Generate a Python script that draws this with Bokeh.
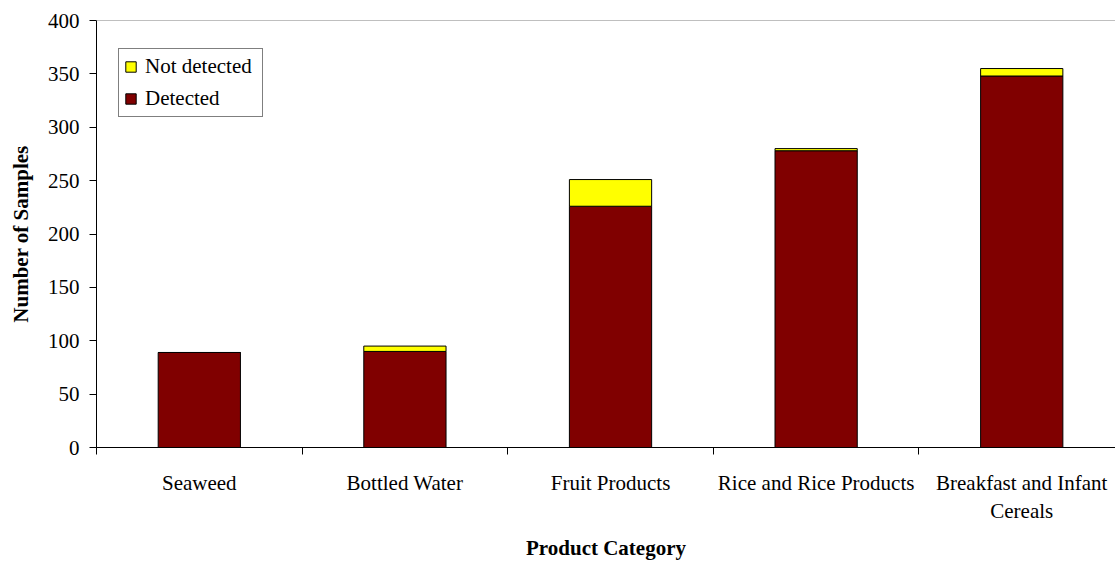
from bokeh.plotting import figure
from bokeh.models import (ColumnDataSource, Range1d, FixedTicker, Legend,
                          LegendItem, Span)
from bokeh.embed import file_html
from bokeh.resources import INLINE

# Sample counts per product category
categories = ["Seaweed", "Bottled Water", "Fruit Products",
              "Rice and Rice Products", "Breakfast and Infant\nCereals"]
detected = [89, 90, 226, 278, 348]
not_detected = [0, 5, 25, 2, 7]
y_ticks = [0, 50, 100, 150, 200, 250, 300, 350, 400]

FONT = "Liberation Serif"
DARK_RED = "#800000"
YELLOW = "#FFFF00"

x_pos = [i + 0.5 for i in range(len(categories))]
totals = [d + n for d, n in zip(detected, not_detected)]

src = ColumnDataSource(dict(
    x=x_pos, detected=detected, total=totals, cat=categories,
))

p = figure(width=1115, height=563, output_backend="svg", toolbar_location=None,
           x_range=Range1d(0, 4.956), y_range=Range1d(0, 400),
           min_border_left=96, min_border_right=0, min_border_top=20,
           min_border_bottom=116)
p.outline_line_color = None
p.xgrid.visible = False
p.ygrid.visible = False
p.background_fill_color = "white"
p.border_fill_color = "white"

r_det = p.vbar(x="x", bottom=0, top="detected", width=0.4, source=src,
               fill_color=DARK_RED, line_color="black", line_width=1)
r_nd = p.vbar(x="x", bottom="detected", top="total", width=0.4, source=src,
              fill_color=YELLOW, line_color="black", line_width=1)

# thin grey line closing the top of the plot area
p.add_layout(Span(location=400, dimension="width", line_color="#808080",
                  line_width=1))

# y axis
yax = p.yaxis[0]
yax.ticker = FixedTicker(ticks=y_ticks, minor_ticks=[])
yax.major_tick_in = 0
yax.major_tick_out = 7
yax.major_tick_line_color = "black"
yax.axis_line_color = "black"
yax.major_label_text_font = FONT
yax.major_label_text_font_size = "21px"
yax.major_label_text_color = "black"
yax.major_label_standoff = 10
yax.axis_label = "Number of Samples"
yax.axis_label_text_font = FONT
yax.axis_label_text_font_size = "21px"
yax.axis_label_text_font_style = "bold"
yax.axis_label_text_color = "black"
yax.axis_label_standoff = 12

# x axis: labels at category centres, tick marks between categories
xax = p.xaxis[0]
xax.ticker = FixedTicker(ticks=x_pos,
                         minor_ticks=list(range(len(categories) + 1)))
xax.major_tick_in = 0
xax.major_tick_out = 0
xax.minor_tick_in = 0
xax.minor_tick_out = 7
xax.minor_tick_line_color = "black"
xax.axis_line_color = "black"
xax.major_label_overrides = {x: c for x, c in zip(x_pos, categories)}
xax.major_label_text_font = FONT
xax.major_label_text_font_size = "21px"
xax.major_label_text_color = "black"
xax.major_label_standoff = 16
xax.axis_label = "Product Category"
xax.axis_label_text_font = FONT
xax.axis_label_text_font_size = "21px"
xax.axis_label_text_font_style = "bold"
xax.axis_label_text_color = "black"
xax.axis_label_standoff = 10

legend = Legend(items=[LegendItem(label="Not detected", renderers=[r_nd]),
                       LegendItem(label="Detected", renderers=[r_det])],
                location=(22, 330))
legend.label_text_font = FONT
legend.label_text_font_size = "21px"
legend.label_text_color = "black"
legend.glyph_width = 13
legend.glyph_height = 13
legend.label_standoff = 8
legend.label_width = 112
legend.spacing = 7
legend.padding = 5
legend.margin = 0
legend.border_line_color = "black"
legend.border_line_width = 1
legend.background_fill_color = "white"
legend.background_fill_alpha = 1
p.add_layout(legend)

open("out.html", "w").write(file_html(p, INLINE))
